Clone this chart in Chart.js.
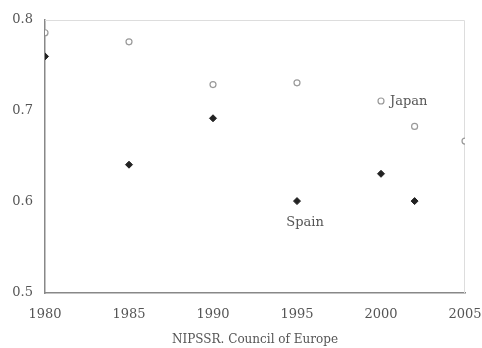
<!DOCTYPE html>
<html>
<head>
<meta charset="utf-8">
<script src="https://cdn.jsdelivr.net/npm/chart.js@4"></script>
<style>
  html, body { margin: 0; padding: 0; background: #fff; }
  #wrap { width: 482px; height: 348px; }
</style>
</head>
<body>
<div id="wrap"><canvas id="chart" width="482" height="348"></canvas></div>
<script>
// values
const years = [1980, 1985, 1990, 1995, 2000, 2002, 2005];
const japan = [0.786, 0.776, 0.729, 0.731, 0.711, 0.683, 0.667];
const spainYears = [1980, 1985, 1990, 1995, 2000, 2002];
const spain = [0.760, 0.641, 0.692, 0.601, 0.631, 0.601];
const xTicks = [1980, 1985, 1990, 1995, 2000, 2005];
const yTicks = [0.5, 0.6, 0.7, 0.8];

const serif = "'DejaVu Serif', 'Liberation Serif', serif";
const textColor = '#555';

// labels placed next to a data point
const seriesLabels = {
  id: 'seriesLabels',
  afterDatasetsDraw(chart) {
    const c = chart.ctx;
    const x = chart.scales.x, y = chart.scales.y;
    c.save();
    c.font = '13px ' + serif;
    c.fillStyle = textColor;
    c.textBaseline = 'middle';
    c.textAlign = 'left';
    c.fillText('Japan', x.getPixelForValue(2000) + 9, y.getPixelForValue(0.710));
    c.textAlign = 'center';
    c.fillText('Spain', x.getPixelForValue(1995) + 8, y.getPixelForValue(0.577));
    c.restore();
  }
};

// faint frame on top and right
const frame = {
  id: 'frame',
  beforeDatasetsDraw(chart) {
    const a = chart.chartArea, c = chart.ctx;
    c.save();
    c.strokeStyle = '#ddd';
    c.lineWidth = 1;
    c.beginPath();
    c.moveTo(a.left, a.top + 0.5);
    c.lineTo(a.right - 0.5, a.top + 0.5);
    c.lineTo(a.right - 0.5, a.bottom);
    c.stroke();
    c.restore();
  }
};

new Chart(document.getElementById('chart'), {
  type: 'scatter',
  data: {
    datasets: [{
      label: 'Japan',
      data: years.map((yr, i) => ({ x: yr, y: japan[i] })),
      pointStyle: 'circle',
      pointRadius: 3,
      pointBorderWidth: 1.2,
      pointBorderColor: '#999',
      pointBackgroundColor: '#fff'
    }, {
      label: 'Spain',
      data: spainYears.map((yr, i) => ({ x: yr, y: spain[i] })),
      pointStyle: 'rectRot',
      pointRadius: 3.5,
      pointBorderWidth: 1,
      pointBorderColor: '#222',
      pointBackgroundColor: '#222'
    }]
  },
  options: {
    responsive: false,
    animation: false,
    layout: { padding: { left: 0, right: 17, top: 20, bottom: 1 } },
    plugins: { legend: { display: false }, tooltip: { enabled: false } },
    scales: {
      x: {
        type: 'linear',
        min: 1980, max: 2005,
        afterBuildTicks: s => { s.ticks = xTicks.map(v => ({ value: v })); },
        afterFit: s => { s.paddingRight = 0; s.paddingLeft = 0; s.height = 54; },
        grid: { display: false },
        border: { display: true, color: '#888', width: 1.5 },
        ticks: {
          color: textColor, font: { family: serif, size: 13 }, padding: 6,
          maxRotation: 0, callback: v => String(v)
        },
        title: {
          display: true, text: 'NIPSSR. Council of Europe',
          color: textColor, font: { family: serif, size: 12 },
          padding: { top: 12, bottom: 0 }
        }
      },
      y: {
        min: 0.5, max: 0.8,
        afterBuildTicks: s => { s.ticks = yTicks.map(v => ({ value: v })); },
        afterFit: s => { s.width = 45; s.paddingTop = 0; s.paddingBottom = 0; },
        grid: { display: false },
        border: { display: true, color: '#888', width: 1.5 },
        ticks: {
          color: textColor, font: { family: serif, size: 13 }, padding: 4,
          callback: v => v.toFixed(1)
        }
      }
    }
  },
  plugins: [frame, seriesLabels]
});
</script>
</body>
</html>
